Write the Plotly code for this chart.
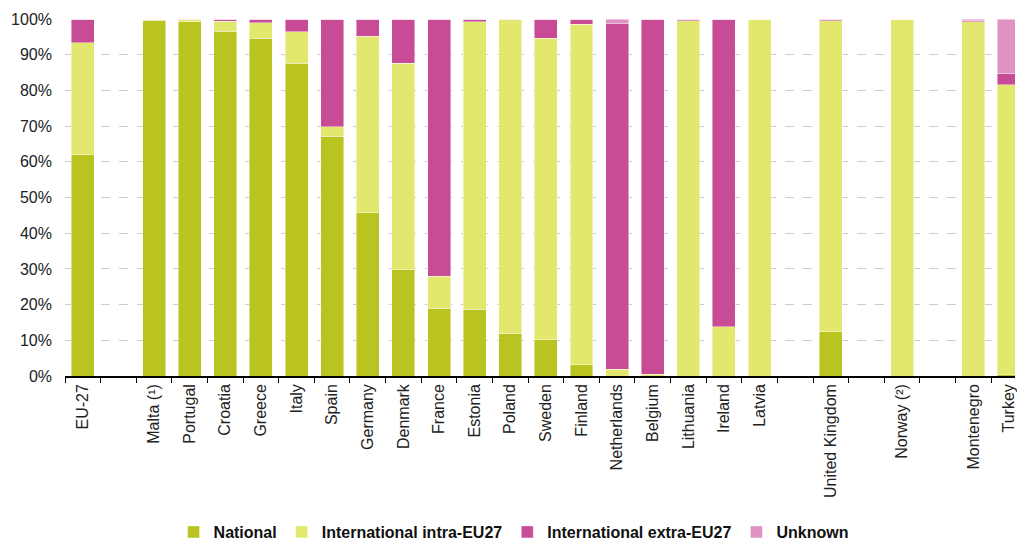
import plotly.graph_objects as go

categories = ["EU-27", " ", "Malta (¹)", "Portugal", "Croatia", "Greece", "Italy", "Spain",
              "Germany", "Denmark", "France", "Estonia", "Poland", "Sweden", "Finland",
              "Netherlands", "Belgium", "Lithuania", "Ireland", "Latvia", "  ",
              "United Kingdom", "   ", "Norway (²)", "    ", "Montenegro", "Turkey"]

national = [62.0, None, 99.7, 99.2, 96.6, 94.6, 87.6, 67.2,
            45.7, 29.8, 19.0, 18.7, 11.9, 10.1, 3.1,
            0.0, 0.0, 0.0, 0.0, 0.0, None,
            12.4, None, 0.0, None, 0.0, 0.5]
intra_eu27 = [31.3, None, 0.3, 0.6, 2.8, 4.4, 8.8, 2.6,
              49.5, 57.8, 9.0, 80.5, 87.9, 84.5, 95.4,
              1.9, 0.5, 99.5, 13.8, 100.0, None,
              87.1, None, 100.0, None, 99.2, 81.1]
extra_eu27 = [6.7, None, 0.0, 0.2, 0.6, 1.0, 3.6, 30.2,
              4.8, 12.4, 72.0, 0.8, 0.2, 5.4, 1.5,
              96.8, 99.5, 0.5, 86.2, 0.0, None,
              0.5, None, 0.0, None, 0.5, 3.0]
unknown = [0.0, None, 0.0, 0.0, 0.0, 0.0, 0.0, 0.0,
           0.0, 0.0, 0.0, 0.0, 0.0, 0.0, 0.0,
           1.3, 0.0, 0.0, 0.0, 0.0, None,
           0.0, None, 0.0, None, 0.3, 15.4]

series = [
    ("National", national, "#b9c420"),
    ("International intra-EU27", intra_eu27, "#e2e76e"),
    ("International extra-EU27", extra_eu27, "#c84c95"),
    ("Unknown", unknown, "#de93c3"),
]

y_ticks = list(range(0, 101, 10))
y_ticktext = [f"{v}%" for v in y_ticks]

fig = go.Figure()
for name, vals, color in series:
    fig.add_trace(go.Bar(
        x=categories, y=vals, name=name,
        marker=dict(color=color, line=dict(color="rgba(255,255,255,0.55)", width=0.8)),
    ))

fig.update_layout(
    barmode="stack",
    bargap=0.355,
    width=1017, height=549,
    margin=dict(l=65, r=0, t=19, b=173),
    plot_bgcolor="white", paper_bgcolor="white",
    font=dict(family="Liberation Sans, Arial, sans-serif", size=16, color="#222222"),
    showlegend=True,
    legend=dict(
        orientation="h", xref="container", yref="container",
        x=0.505, xanchor="center", y=0.0, yanchor="bottom",
        font=dict(size=16, color="#111111", weight="bold"),
        traceorder="normal", itemwidth=30,
    ),
)

fig.update_xaxes(
    type="category",
    range=[-0.5, 26.17],
    tickangle=-90,
    tickson="boundaries",
    ticks="outside", ticklen=5, tickcolor="#000000",
    showline=True, linecolor="#000000", linewidth=1.5,
    showgrid=False,
    tickfont=dict(size=16, color="#222222"),
)
fig.update_yaxes(
    range=[0, 100],
    tickvals=y_ticks, ticktext=y_ticktext,
    showgrid=True, gridcolor="#cccccc", griddash="dash", gridwidth=1,
    zeroline=False, showline=False, ticks="",
    ticklabelstandoff=12,
    tickfont=dict(size=16, color="#222222"),
)

fig.write_html(
    "out.html",
    config={"displayModeBar": False},
    post_script="document.body.style.margin='0';document.body.style.overflow='hidden';",
)
